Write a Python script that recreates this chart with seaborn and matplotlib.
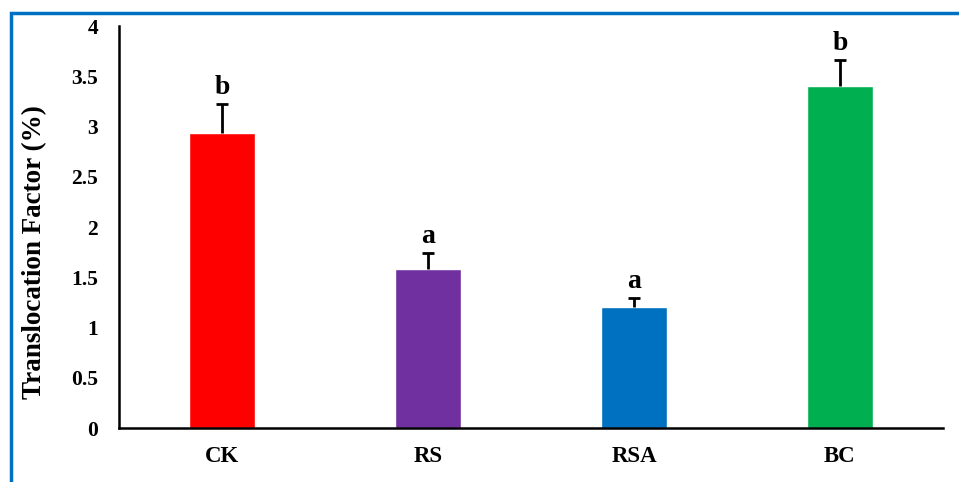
import matplotlib
matplotlib.use("Agg")
import matplotlib.pyplot as plt
from matplotlib.patches import Rectangle
import seaborn as sns
import pandas as pd

# Treatment groups, mean translocation factor, upper error and significance letters
categories = ["CK", "RS", "RSA", "BC"]
values = [2.94, 1.58, 1.20, 3.40]
errors = [0.28, 0.16, 0.09, 0.26]
letters = ["b", "a", "a", "b"]
colors = ["#FF0000", "#7030A0", "#0070C0", "#00B050"]
yticks = [0, 0.5, 1, 1.5, 2, 2.5, 3, 3.5, 4]
ytick_labels = ["0", "0.5", "1", "1.5", "2", "2.5", "3", "3.5", "4"]

sns.set_theme(style="white", rc={"text.color": "black", "axes.labelcolor": "black",
                                 "xtick.color": "black", "ytick.color": "black"})
plt.rcParams["font.family"] = ["Liberation Serif", "DejaVu Serif"]
plt.rcParams["font.weight"] = "bold"

df = pd.DataFrame({"group": categories, "tf": values})

fig = plt.figure(figsize=(9.59, 4.82), dpi=100)
ax = fig.add_axes([0.1241, 0.112, 0.8592, 0.834])

sns.barplot(data=df, x="group", y="tf", hue="group", palette=colors,
            width=0.316, legend=False, ax=ax, saturation=1)

# one-sided error bars: stem from bar top, cap only at the upper end
xs = list(range(len(categories)))
tops = [v + e for v, e in zip(values, errors)]
ax.vlines(xs, values, tops, colors="black", linewidth=2)
ax.plot(xs, tops, linestyle="none", marker="_", markersize=8.5,
        markeredgewidth=2, color="black")

for i, (t, lab) in enumerate(zip(tops, letters)):
    ax.text(i, t + 0.04, lab, ha="center", va="bottom",
            fontsize=20, fontweight="bold", color="black")

ax.set_xlim(-0.5, 3.5)
ax.set_ylim(0, 4)
ax.set_yticks(yticks)
ax.set_yticklabels(ytick_labels, fontsize=15.5, fontweight="bold")
ax.set_xticks(xs)
ax.set_xticklabels(categories, fontsize=16.5, fontweight="bold")
ax.set_xlabel("")
ax.set_ylabel("Translocation Factor (%)", fontsize=19.5, fontweight="bold")
ax.yaxis.set_label_coords(-0.0874, 0.438)

for side in ["top", "right"]:
    ax.spines[side].set_visible(False)
for side in ["left", "bottom"]:
    ax.spines[side].set_color("black")
    ax.spines[side].set_linewidth(1.8)

ax.tick_params(axis="y", direction="in", length=7, width=1.6, color="black", pad=15)
ax.tick_params(axis="x", length=0, pad=13)

# blue frame around the chart
fig.patches.append(Rectangle((10.5 / 959, -0.1), 1.2, 1.1 - 12.5 / 482,
                             transform=fig.transFigure, fill=False,
                             edgecolor="#0070C0", linewidth=2.5, clip_on=False))

fig.savefig("out.png", dpi=100)
